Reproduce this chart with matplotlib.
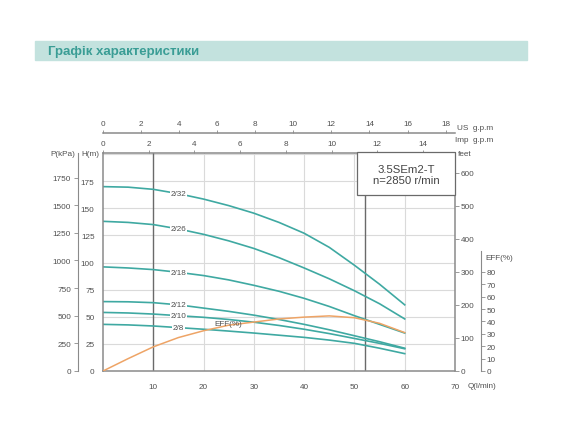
import numpy as np
import matplotlib.pyplot as plt
from matplotlib.patches import Rectangle

plt.rcParams['font.family'] = ['Liberation Sans', 'DejaVu Sans']

# flow, l/min
q = [0, 5, 10, 15, 20, 25, 30, 35, 40, 45, 50, 55, 60]
# head, m
h_2_32 = [170, 169.5, 167.5, 163.5, 158.5, 152.5, 145.5, 137, 127, 114, 97.5, 80, 61]
h_2_26 = [138, 137, 135, 131, 126, 120, 113, 104.5, 95, 85, 74, 62, 48]
h_2_18 = [96, 95, 93.5, 91, 88, 84, 79, 73.5, 67, 59.5, 51, 43, 35]
h_2_12 = [64, 63.8, 63, 61, 58, 55, 51.5, 47.5, 43, 38, 32.5, 27, 21]
h_2_10 = [54, 53.5, 52.5, 51, 49.5, 47.5, 45, 42, 38.5, 34.5, 30, 25.5, 20.5]
h_2_8 = [43, 42.5, 41.5, 40, 38.5, 36.8, 35, 33, 31, 28.5, 25.5, 21, 16]
eff = [0, 10, 19.5, 27, 32.5, 37, 39.5, 42, 43.5, 44.5, 43, 38.5, 31]

curves = [('2/32', h_2_32), ('2/26', h_2_26), ('2/18', h_2_18),
          ('2/12', h_2_12), ('2/10', h_2_10), ('2/8', h_2_8)]

q_ticks = [10, 20, 30, 40, 50, 60, 70]
h_ticks = [0, 25, 50, 75, 100, 125, 150, 175]
p_ticks = [0, 250, 500, 750, 1000, 1250, 1500, 1750]
ft_ticks = [0, 100, 200, 300, 400, 500, 600]
eff_ticks = [0, 10, 20, 30, 40, 50, 60, 70, 80]
imp_ticks = [0, 2, 4, 6, 8, 10, 12, 14]
us_ticks = [0, 2, 4, 6, 8, 10, 12, 14, 16, 18]

H_TOP = 201
M_PER_EFF = 1.142   # EFF scale is drawn so 10 % = 11.42 m
TEAL = '#3fa9a2'
ORANGE = '#eea466'
GRID = '#dadada'
DARK = '#6a6a6a'
TXT = '#505050'
FS = 5.9

fig = plt.figure(figsize=(5.7, 4.35), dpi=100)

# title band
fig.patches.append(Rectangle((35/570, 1-61/435), 492/570, 19/435,
                             transform=fig.transFigure, color='#c3e2de', zorder=0))
fig.text(48/570, 1-51.5/435, 'Графік характеристики', color='#3a9d95',
         fontsize=9.5, fontweight='bold', va='center')

ax = fig.add_axes([103/570, 63/435, 352/570, 218/435])
ax.set_xlim(0, 70)
ax.set_ylim(0, H_TOP)

for y in [25, 50, 75, 100, 125, 150, 175, 200]:
    ax.axhline(y, color=GRID, lw=0.8, zorder=1)
for x in [20, 30, 40, 50, 60]:
    ax.axvline(x, color=GRID, lw=0.8, zorder=1)
ax.axvline(10, color=DARK, lw=1.0, zorder=1.5)
ax.plot([52.2, 52.2], [0, 162], color=DARK, lw=1.0, zorder=1.5)

ax.add_patch(Rectangle((50.5, 162), 19.5, 40, facecolor='white',
                       edgecolor=DARK, lw=0.9, zorder=3, clip_on=False))
ax.text(60.3, 181.5, '3.5SEm2-T\nn=2850 r/min', ha='center', va='center',
        fontsize=8.2, color='#444444', linespacing=1.15, zorder=4)

for name, hv in curves:
    ax.plot(q, hv, color=TEAL, lw=1.2, zorder=2)
    ax.text(q[3], hv[3], name, fontsize=FS, color=TXT, ha='center', va='center',
            bbox=dict(facecolor='white', edgecolor='none', pad=0.6), zorder=2.5)

for side in ['left', 'bottom', 'right', 'top']:
    ax.spines[side].set_color('#8a8a8a')
    ax.spines[side].set_linewidth(1.1)

ax.set_xticks(q_ticks)
ax.set_yticks(h_ticks)
ax.tick_params(axis='x', length=0, pad=9, labelsize=FS, labelcolor=TXT)
ax.tick_params(axis='y', length=0, pad=6, labelsize=FS, labelcolor=TXT)

# efficiency scale
ax3 = ax.twinx()
ax3.set_ylim(0, H_TOP / M_PER_EFF)
ax3.plot(q, eff, color=ORANGE, lw=1.1, zorder=2)
ax3.text(q[5] - 2.8, eff[5] + 1.5, 'EFF(%)', fontsize=FS, color=TXT, va='center')
for side in ['left', 'top', 'bottom']:
    ax3.spines[side].set_visible(False)
ax3.spines['right'].set_position(('axes', 378/352))
ax3.spines['right'].set_bounds(0, 97)
ax3.spines['right'].set_color('#8a8a8a')
ax3.set_yticks(eff_ticks)
ax3.tick_params(axis='y', length=3, width=0.6, color='#8a8a8a', pad=1,
                labelsize=FS, labelcolor=TXT)

# pressure scale
axp = ax.secondary_yaxis(-25/352, functions=(lambda m: m * 9.81, lambda p: p / 9.81))
axp.set_yticks(p_ticks)
axp.spines['left'].set_color('#8a8a8a')
axp.tick_params(length=3, width=0.6, color='#8a8a8a', pad=2, labelsize=FS, labelcolor=TXT)

# feet scale
axf = ax.secondary_yaxis('right', functions=(lambda m: m * 3.2808, lambda f: f / 3.2808))
axf.set_yticks(ft_ticks)
axf.spines['right'].set_visible(False)
axf.tick_params(length=3, width=0.6, color='#8a8a8a', pad=1, labelsize=FS, labelcolor=TXT)

# gallon scales
axi = ax.secondary_xaxis('top', functions=(lambda l: l / 4.546, lambda g: g * 4.546))
axi.set_xticks(imp_ticks)
axi.spines['top'].set_visible(False)
axi.tick_params(length=2, width=0.6, color='#8a8a8a', pad=2, labelsize=FS, labelcolor=TXT)

axu = ax.secondary_xaxis(238/218, functions=(lambda l: l / 3.785, lambda g: g * 3.785))
axu.set_xticks(us_ticks)
axu.spines['top'].set_color('#8a8a8a')
axu.spines['top'].set_linewidth(1.1)
axu.tick_params(length=2, width=0.6, color='#8a8a8a', pad=2, labelsize=FS, labelcolor=TXT)

def px_text(x, y, s, **kw):
    fig.text(x/570, 1 - y/435, s, fontsize=FS, color=TXT, va='center', **kw)

px_text(50, 155, 'P(kPa)')
px_text(81, 155, 'H(m)')
px_text(458, 155, 'feet')
px_text(457, 128, 'US  g.p.m')
px_text(455, 141, 'Imp  g.p.m')
px_text(485, 259, 'EFF(%)')
px_text(468, 387, 'Q(l/min)')

fig.savefig('out.png', dpi=100)
